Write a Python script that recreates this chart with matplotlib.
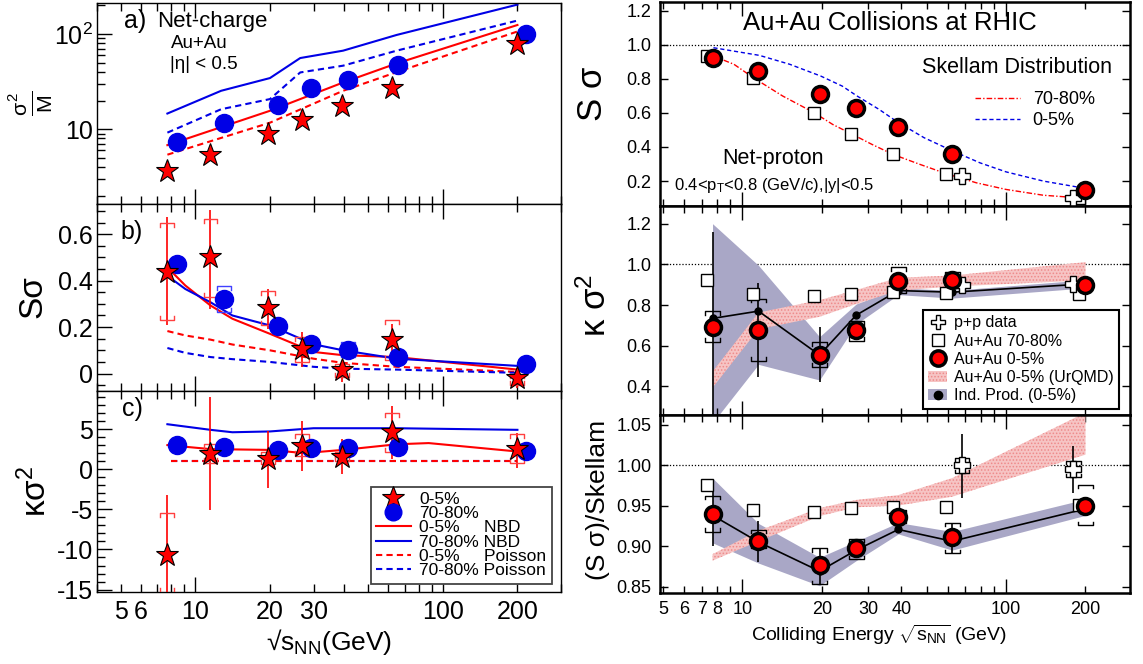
import matplotlib
matplotlib.use('Agg')
import matplotlib.pyplot as plt
from matplotlib.lines import Line2D
from matplotlib.patches import Patch
from matplotlib.ticker import NullFormatter, MultipleLocator, FixedLocator

plt.rcParams['font.family'] = ['Liberation Sans', 'DejaVu Sans']
plt.rcParams['mathtext.fontset'] = 'custom'
plt.rcParams['mathtext.rm'] = 'Liberation Sans'
plt.rcParams['mathtext.it'] = 'Liberation Sans'
plt.rcParams['mathtext.bf'] = 'Liberation Sans:bold'
plt.rcParams['hatch.linewidth'] = 0.7

# ---------------- left: net-charge ----------------
e_central = [7.7, 11.5, 19.6, 27, 39, 62.4, 200]
e_periph = [8.4, 13.0, 21.6, 29.2, 41.2, 65.6, 217]

# a) sigma^2 / M
var_central = [3.68, 5.42, 8.8, 12.6, 17.5, 27.2, 78.5]
var_periph = [7.4, 11.7, 17.9, 27.0, 32.8, 47.2, 100]
e_model_a = [7.7, 12.7, 20, 26.5, 39.5, 65, 200]
nbd_periph_a = [14.6, 25.3, 34.4, 55.8, 66.7, 97.5, 203]
poi_periph_a = [9.2, 16.2, 20.7, 39.4, 46.4, 66.7, 138]
e_model_a2 = [7.7, 20, 39.5, 65, 200]
nbd_central_a = [6.8, 15.6, 30.9, 49, 124]
poi_central_a = [5.4, 11.7, 25.3, 39.7, 106]

# b) S sigma
skew_central = [0.439, 0.50, 0.281, 0.107, 0.014, 0.143, -0.021]
skew_stat_lo = [0.207, 0.279, 0.19, 0.029, -0.036, 0.057, -0.064]
skew_stat_hi = [0.674, 0.703, 0.364, 0.179, 0.054, 0.214, 0.014]
skew_sys_lo = [0.231, 0.329, 0.207, 0.05, -0.014, 0.057, -0.05]
skew_sys_hi = [0.65, 0.664, 0.354, 0.157, 0.04, 0.231, 0.0]
skew_periph = [0.471, 0.319, 0.203, 0.126, 0.103, 0.071, 0.039]
e_skew_periph_sys = [13.0, 41.2]
skew_periph_sys_lo = [0.264, 0.071]
skew_periph_sys_hi = [0.379, 0.136]
e_model_b = [7.7, 9.1, 11.5, 14.1, 20, 30, 39.5, 65, 200]
nbd_central_b = [0.457, 0.379, 0.293, 0.236, 0.171, 0.093, 0.079, 0.071, 0.017]
nbd_periph_b = [0.421, 0.364, 0.307, 0.25, 0.207, 0.126, 0.1, 0.064, 0.033]
poi_central_b = [0.183, 0.164, 0.146, 0.125, 0.1, 0.064, 0.046, 0.029, 0.007]
poi_periph_b = [0.11, 0.089, 0.071, 0.062, 0.05, 0.029, 0.021, 0.017, 0.003]

# c) kappa sigma^2
kurt_central = [-10.7, 1.9, 1.25, 2.9, 1.5, 4.6, 2.5]
kurt_stat_lo = [-15.4, -5.1, -2.3, -0.2, -0.6, 1.25, 0.2]
kurt_stat_hi = [-3.2, 9.0, 4.8, 6.0, 3.75, 7.9, 4.5]
kurt_sys_lo = [-15.4, 0.8, 0.6, 1.7, 1.0, 2.1, 0.8]
kurt_sys_hi = [-5.4, 3.1, 2.1, 4.4, 2.1, 7.0, 4.4]
kurt_periph = [3.0, 2.7, 2.4, 2.6, 2.6, 2.7, 2.3]
e_nbd_periph_c = [7.7, 11.5, 14.1, 20, 30, 65, 200]
nbd_periph_c = [5.6, 4.9, 4.6, 4.7, 5.1, 5.1, 4.9]
e_nbd_central_c = [7.7, 11.5, 20, 27.4, 39.5, 65, 87.6, 200]
nbd_central_c = [3.0, 2.5, 2.4, 2.0, 2.4, 3.1, 3.25, 2.2]
e_poisson_c = [8, 200]
poi_c = [1.0, 1.0]

# ---------------- right: net-proton ----------------
e_au = [7.7, 11.5, 19.6, 27, 39, 62.4, 200]
e_sq = [7.35, 11.0, 18.7, 25.9, 37.2, 59.4, 189]
e_pp = [68, 180]

sk_central = [0.92, 0.845, 0.712, 0.626, 0.517, 0.36, 0.149]
sk_periph = [0.933, 0.806, 0.601, 0.477, 0.356, 0.243, 0.102]
sk_pp = [0.229, 0.102]
e_skellam_c = [7.76, 11.6, 15.1, 19.8, 23.9, 27.2, 33.0, 39.1, 48.9, 62.8, 79.6, 100, 138.5, 200]
skellam_central = [0.982, 0.937, 0.885, 0.816, 0.757, 0.699, 0.62, 0.542, 0.454, 0.376, 0.307, 0.254, 0.2, 0.157]
e_skellam_p = [7.76, 9.28, 11.0, 14.2, 18.7, 22.0, 25.9, 31.0, 37.3, 47.3, 59.4, 77.1, 100, 138.5, 188.8]
skellam_periph = [0.933, 0.885, 0.806, 0.699, 0.601, 0.532, 0.477, 0.415, 0.356, 0.297, 0.243, 0.19, 0.151, 0.117, 0.102]

kap_central = [0.693, 0.676, 0.554, 0.676, 0.917, 0.921, 0.896]
kap_stat_lo = [0.2, 0.448, 0.419, 0.645, 0.885, 0.879, 0.88]
kap_stat_hi = [1.158, 0.91, 0.69, 0.71, 0.955, 0.962, 0.912]
kap_sys_lo = [0.619, 0.526, 0.494, 0.623, 0.86, 0.885, 0.885]
kap_sys_hi = [0.769, 0.832, 0.619, 0.722, 0.987, 0.96, 0.91]
kap_ind = [0.734, 0.77, 0.554, 0.75, 0.871, 0.863, 0.904]
kap_band_lo = [0.22, 0.508, 0.431, 0.706, 0.851, 0.834, 0.884]
kap_band_hi = [1.2, 0.995, 0.644, 0.805, 0.884, 0.872, 0.924]
kap_periph = [0.922, 0.856, 0.844, 0.855, 0.865, 0.86, 0.855]
kap_pp = [0.896, 0.904]
kap_urqmd_lo = [0.393, 0.681, 0.742, 0.805, 0.871, 0.891, 0.921]
kap_urqmd_hi = [0.472, 0.763, 0.824, 0.874, 0.934, 0.945, 1.011]

rat_central = [0.94, 0.906, 0.876, 0.897, 0.9355, 0.911, 0.95]
rat_stat_lo = [0.90, 0.88, 0.853, 0.887, 0.928, 0.891, 0.943]
rat_stat_hi = [0.976, 0.931, 0.897, 0.907, 0.943, 0.929, 0.959]
rat_sys_lo = [0.918, 0.897, 0.853, 0.884, 0.928, 0.891, 0.926]
rat_sys_hi = [0.962, 0.92, 0.897, 0.909, 0.945, 0.929, 0.976]
rat_ind = [0.938, 0.905, 0.869, 0.895, 0.9205, 0.906, 0.946]
rat_band_lo = [0.904, 0.879, 0.851, 0.882, 0.915, 0.895, 0.938]
rat_band_hi = [0.984, 0.928, 0.886, 0.906, 0.929, 0.918, 0.958]
rat_periph = [0.975, 0.945, 0.942, 0.947, 0.948, 0.948, 0.951]
rat_pp = [1.0, 0.995]
rat_pp_stat_lo = [0.96, 0.965]
rat_pp_stat_hi = [1.038, 1.024]
rat_pp_sys_lo = [0.99, 0.985]
rat_pp_sys_hi = [1.009, 1.005]
rat_urqmd_lo = [0.882, 0.906, 0.937, 0.948, 0.95, 0.961, 1.013]
rat_urqmd_hi = [0.89, 0.919, 0.947, 0.957, 0.963, 0.984, 1.065]

RED = '#ff0000'
BLUE = '#0000e6'
BAND = '#a9a7c6'
URQMD = '#f6c4c4'


def brackets(ax, x, lo, hi, color, w=0.028, h=0.022, lw=1.0, z=4):
    y0, y1 = ax.get_ylim()
    dy = h * (y1 - y0)
    for xi, l, u in zip(x, lo, hi):
        xl, xr = xi * 10 ** -w, xi * 10 ** w
        ax.plot([xl, xl, xr, xr], [u - dy, u, u, u - dy], color=color, lw=lw, zorder=z)
        ax.plot([xl, xl, xr, xr], [l + dy, l, l, l + dy], color=color, lw=lw, zorder=z)


def stat(ax, x, lo, hi, color, lw=1.2, z=4):
    ax.vlines(x, lo, hi, color=color, lw=lw, zorder=z)


fig = plt.figure(figsize=(11.43, 6.64), dpi=100)
W, H = 1143, 664


def add_axes(x0, x1, y0, y1):
    return fig.add_axes([x0 / W, 1 - y1 / H, (x1 - x0) / W, (y1 - y0) / H])


ax_a = add_axes(97, 561, 3.4, 204)
ax_b = add_axes(97, 561, 204, 390.5)
ax_c = add_axes(97, 561, 390.5, 592)
ax_t = add_axes(659.6, 1130, 2, 206)
ax_m = add_axes(659.6, 1130, 206, 415)
ax_r = add_axes(659.6, 1130, 415, 593)

# ---- left axes styling ----
for ax in (ax_a, ax_b, ax_c):
    ax.set_xscale('log')
    ax.set_xlim(4, 300)
    ax.xaxis.set_major_locator(FixedLocator([10, 100]))
    ax.xaxis.set_minor_locator(FixedLocator([4, 5, 6, 7, 8, 9, 20, 30, 40, 50, 60, 70, 80, 90, 200, 300]))
    ax.tick_params(which='both', direction='in', top=True, bottom=True, right=False,
                   labelsize=18, pad=3, width=1)
    ax.tick_params(which='major', length=11)
    ax.tick_params(which='minor', length=6)
    for s in ax.spines.values():
        s.set_linewidth(1.0)
for ax in (ax_a, ax_b):
    ax.tick_params(which='both', labelbottom=False)
ax_c.set_xticks([10, 100], ['10', '100'])
ax_c.set_xticks([4, 5, 6, 7, 8, 9, 20, 30, 40, 50, 60, 70, 80, 90, 200, 300],
                ['', '5', '6', '', '', '', '20', '30', '', '', '', '', '', '', '200', ''], minor=True)
ax_c.tick_params(axis='x', which='both', pad=6)

# a)
ax_a.set_yscale('log')
ax_a.set_ylim(1.64, 209)
ax_a.set_yticks([10, 100], ['10', '$10^2$'])
ax_a.yaxis.set_minor_formatter(NullFormatter())
ax_a.plot(e_model_a, nbd_periph_a, color=BLUE, lw=1.5)
ax_a.plot(e_model_a, poi_periph_a, color=BLUE, lw=1.5, ls=(0, (3, 2)))
ax_a.plot(e_model_a2, nbd_central_a, color=RED, lw=1.5)
ax_a.plot(e_model_a2, poi_central_a, color=RED, lw=1.5, ls=(0, (3, 2)))
ax_a.plot(e_periph, var_periph, 'o', ms=13, color=BLUE, mec=BLUE, zorder=5)
ax_a.plot(e_central, var_central, '*', ms=17, mfc=RED, mec='k', mew=0.8, zorder=6)
ax_a.text(0.058, 0.912, 'a)', transform=ax_a.transAxes, fontsize=18, va='center')
ax_a.text(0.129, 0.912, 'Net-charge', transform=ax_a.transAxes, fontsize=16, va='center')
ax_a.text(0.16, 0.80, 'Au+Au', transform=ax_a.transAxes, fontsize=13.5, va='center')
ax_a.text(0.157, 0.696, '|η| < 0.5', transform=ax_a.transAxes, fontsize=13.5, va='center')

# b)
ax_b.set_ylim(-0.073, 0.73)
ax_b.set_yticks([0, 0.2, 0.4, 0.6], ['0', '0.2', '0.4', '0.6'])
ax_b.yaxis.set_minor_locator(MultipleLocator(0.05))
ax_b.plot(e_model_b, nbd_central_b, color=RED, lw=1.5)
ax_b.plot(e_model_b, nbd_periph_b, color=BLUE, lw=1.5)
ax_b.plot(e_model_b, poi_central_b, color=RED, lw=1.5, ls=(0, (3, 2)))
ax_b.plot(e_model_b, poi_periph_b, color=BLUE, lw=1.5, ls=(0, (3, 2)))
stat(ax_b, e_central, skew_stat_lo, skew_stat_hi, RED)
brackets(ax_b, e_central, skew_sys_lo, skew_sys_hi, '#ff4040')
brackets(ax_b, e_skew_periph_sys, skew_periph_sys_lo, skew_periph_sys_hi, '#4040ff')
ax_b.plot(e_periph, skew_periph, 'o', ms=13, color=BLUE, zorder=5)
ax_b.plot(e_central, skew_central, '*', ms=17, mfc=RED, mec='k', mew=0.8, zorder=6)
ax_b.text(0.05, 0.85, 'b)', transform=ax_b.transAxes, fontsize=18, va='center')

# c)
ax_c.set_ylim(-15.3, 9.8)
ax_c.set_yticks([-15, -10, -5, 0, 5], ['-15', '-10', '-5', '0', '5'])
ax_c.yaxis.set_minor_locator(MultipleLocator(1))
ax_c.plot(e_nbd_periph_c, nbd_periph_c, color=BLUE, lw=1.5)
ax_c.plot(e_nbd_central_c, nbd_central_c, color=RED, lw=1.5)
ax_c.plot(e_poisson_c, poi_c, color=BLUE, lw=1.5, ls=(0, (3, 2)))
ax_c.plot(e_poisson_c, poi_c, color=RED, lw=1.5, ls=(0, (3, 2)))
stat(ax_c, e_central, kurt_stat_lo, kurt_stat_hi, RED)
brackets(ax_c, e_central, kurt_sys_lo, kurt_sys_hi, '#ff4040')
ax_c.plot(e_periph, kurt_periph, 'o', ms=13, color=BLUE, zorder=5)
ax_c.plot(e_central, kurt_central, '*', ms=17, mfc=RED, mec='k', mew=0.8, zorder=6)
ax_c.text(0.054, 0.91, 'c)', transform=ax_c.transAxes, fontsize=18, va='center')

left_handles = [
    Line2D([], [], ls='none', marker='*', ms=17, mfc=RED, mec='k', mew=0.8),
    Line2D([], [], ls='none', marker='o', ms=12, color=BLUE),
    Line2D([], [], color=RED, lw=1.5),
    Line2D([], [], color=BLUE, lw=1.5),
    Line2D([], [], color=RED, lw=1.5, ls=(0, (3, 2))),
    Line2D([], [], color=BLUE, lw=1.5, ls=(0, (3, 2))),
]
left_labels = ['0-5%', '70-80%', '0-5%     NBD', '70-80% NBD', '0-5%     Poisson', '70-80% Poisson']
leg = ax_c.legend(left_handles, left_labels, loc='lower right', bbox_to_anchor=(0.98, 0.042),
                  fontsize=12.5, frameon=True, fancybox=False, edgecolor='#444444',
                  framealpha=1, borderpad=0.3, labelspacing=-0.05, handlelength=2.0,
                  handletextpad=0.5, borderaxespad=0)
leg.get_frame().set_linewidth(1.3)

fig.text(30.6 / W, 1 - 103.8 / H, r'$\frac{\sigma^2}{\mathrm{M}}$', fontsize=22,
         rotation=90, ha='center', va='center')
fig.text(32.8 / W, 1 - 296.5 / H, 'Sσ', fontsize=24, rotation=90, ha='center', va='center')
fig.text(36 / W, 1 - 491 / H, 'κσ$^2$', fontsize=24, rotation=90, ha='center', va='center')
fig.text(329 / W, 1 - 642 / H, '√s$_{NN}$(GeV)', fontsize=19, ha='center', va='center')

# ---- right axes styling ----
for ax in (ax_t, ax_m, ax_r):
    ax.set_xscale('log')
    ax.set_xlim(4.85, 295)
    ax.xaxis.set_major_locator(FixedLocator([10, 100]))
    ax.xaxis.set_minor_locator(FixedLocator([5, 6, 7, 8, 9, 20, 30, 40, 50, 60, 70, 80, 90, 200]))
    ax.tick_params(which='both', direction='in', top=True, right=True, labelsize=13, pad=6, width=1)
    ax.tick_params(which='major', length=10)
    ax.tick_params(which='minor', length=5)
    ax.tick_params(axis='y', which='major', length=6)
    for s in ax.spines.values():
        s.set_linewidth(1.8)
for ax in (ax_t, ax_m):
    ax.tick_params(which='both', labelbottom=False)
ax_r.set_xticks([10, 100], ['10', '100'])
ax_r.set_xticks([5, 6, 7, 8, 9, 20, 30, 40, 50, 60, 70, 80, 90, 200],
                ['5', '6', '7', '8', '', '20', '30', '40', '', '', '', '', '', '200'], minor=True)

# top
ax_t.set_ylim(0.054, 1.25)
ax_t.set_yticks([0.2, 0.4, 0.6, 0.8, 1.0, 1.2], ['0.2', '0.4', '0.6', '0.8', '1.0', '1.2'])
ax_t.axhline(1.0, color='k', lw=0.9, ls=(0, (1, 1.5)))
l_per, = ax_t.plot(e_skellam_p, skellam_periph, color=RED, lw=1.0, ls=(0, (4, 1.5, 1, 1.5)))
l_cen, = ax_t.plot(e_skellam_c, skellam_central, color=BLUE, lw=1.0, ls=(0, (3, 2)))
ax_t.plot(e_sq, sk_periph, 's', ms=9, mfc='white', mec='k', mew=1.0, zorder=5)
ax_t.plot(e_pp, sk_pp, 'P', ms=11, mfc='white', mec='k', mew=1.0, zorder=5)
ax_t.plot(e_au, sk_central, 'o', ms=11.5, mfc=RED, mec='k', mew=2.5, zorder=6)
ax_t.text(0.49, 0.896, 'Au+Au Collisions at RHIC', transform=ax_t.transAxes, fontsize=18.5,
          ha='center', va='center')
ax_t.text(0.76, 0.677, 'Skellam Distribution', transform=ax_t.transAxes, fontsize=15.5,
          ha='center', va='center')
ax_t.text(0.241, 0.231, 'Net-proton', transform=ax_t.transAxes, fontsize=15.5,
          ha='center', va='center')
ax_t.text(0.031, 0.10, '0.4<p$_{\\mathrm{T}}$<0.8 (GeV/c),|y|<0.5', transform=ax_t.transAxes,
          fontsize=12, ha='left', va='center')
ax_t.legend([l_per, l_cen], ['70-80%', '0-5%'], loc='upper left', bbox_to_anchor=(0.655, 0.60),
            frameon=False, fontsize=13, handlelength=2.5, handletextpad=0.7, labelspacing=0.25,
            borderaxespad=0)

# middle
ax_m.set_ylim(0.259, 1.287)
ax_m.set_yticks([0.4, 0.6, 0.8, 1.0, 1.2], ['0.4', '0.6', '0.8', '1.0', '1.2'])
ax_m.axhline(1.0, color='k', lw=0.9, ls=(0, (1, 1.5)), zorder=1)
ax_m.fill_between(e_au, kap_band_lo, kap_band_hi, color=BAND, lw=0, zorder=1)
ax_m.fill_between(e_au, kap_urqmd_lo, kap_urqmd_hi, facecolor=URQMD, edgecolor='#ee8a8a',
                  hatch='.....', lw=0, zorder=2)
ax_m.plot(e_au, kap_ind, '-o', color='k', lw=1.2, ms=5, zorder=3)
stat(ax_m, e_au, kap_stat_lo, kap_stat_hi, 'k')
brackets(ax_m, e_au, kap_sys_lo, kap_sys_hi, 'k', h=0.018)
ax_m.plot(e_sq, kap_periph, 's', ms=9, mfc='white', mec='k', mew=1.0, zorder=5)
ax_m.plot(e_pp, kap_pp, 'P', ms=11, mfc='white', mec='k', mew=1.0, zorder=5)
ax_m.plot(e_au, kap_central, 'o', ms=11.5, mfc=RED, mec='k', mew=2.5, zorder=6)
right_handles = [
    Line2D([], [], ls='none', marker='P', ms=10, mfc='white', mec='k', mew=1.0),
    Line2D([], [], ls='none', marker='s', ms=8, mfc='white', mec='k', mew=1.0),
    Line2D([], [], ls='none', marker='o', ms=11, mfc=RED, mec='k', mew=2.5),
    Patch(facecolor=URQMD, edgecolor='#ee8a8a', hatch='.....', lw=0),
    (Patch(facecolor=BAND, lw=0), Line2D([], [], ls='none', marker='o', ms=6, color='k')),
]
right_labels = ['p+p data', 'Au+Au 70-80%', 'Au+Au 0-5%', 'Au+Au 0-5% (UrQMD)', 'Ind. Prod. (0-5%)']
leg2 = ax_m.legend(right_handles, right_labels, loc='lower right', bbox_to_anchor=(0.977, 0.03),
                   fontsize=11.5, frameon=True, fancybox=False, edgecolor='k', framealpha=1,
                   borderpad=0.35, labelspacing=0.2, handlelength=1.2, handletextpad=0.4,
                   borderaxespad=0)
leg2.get_frame().set_linewidth(1.5)

# bottom
ax_r.set_ylim(0.842, 1.062)
ax_r.set_yticks([0.85, 0.9, 0.95, 1.0, 1.05], ['0.85', '0.90', '0.95', '1.00', '1.05'])
ax_r.axhline(1.0, color='k', lw=0.9, ls=(0, (1, 1.5)), zorder=1)
ax_r.fill_between(e_au, rat_band_lo, rat_band_hi, color=BAND, lw=0, zorder=1)
ax_r.fill_between(e_au, rat_urqmd_lo, rat_urqmd_hi, facecolor=URQMD, edgecolor='#ee8a8a',
                  hatch='.....', lw=0, zorder=2)
ax_r.plot(e_au, rat_ind, '-o', color='k', lw=1.2, ms=5, zorder=3)
stat(ax_r, e_au, rat_stat_lo, rat_stat_hi, 'k')
brackets(ax_r, e_au, rat_sys_lo, rat_sys_hi, 'k', h=0.018)
stat(ax_r, e_pp, rat_pp_stat_lo, rat_pp_stat_hi, 'k')
brackets(ax_r, e_pp, rat_pp_sys_lo, rat_pp_sys_hi, 'k', h=0.018)
ax_r.plot(e_sq, rat_periph, 's', ms=9, mfc='white', mec='k', mew=1.0, zorder=5)
ax_r.plot(e_pp, rat_pp, 'P', ms=11, mfc='white', mec='k', mew=1.0, zorder=5)
ax_r.plot(e_au, rat_central, 'o', ms=11.5, mfc=RED, mec='k', mew=2.5, zorder=6)

fig.text(592 / W, 1 - 94 / H, 'S σ', fontsize=25, rotation=90, ha='center', va='center')
fig.text(596 / W, 1 - 305 / H, 'κ σ$^2$', fontsize=25, rotation=90, ha='center', va='center')
fig.text(598 / W, 1 - 500 / H, '(S σ)/Skellam', fontsize=19, rotation=90, ha='center', va='center')
fig.text(879 / W, 1 - 635 / H, r'Colliding Energy $\sqrt{s_{\mathrm{NN}}}$ (GeV)', fontsize=14,
         ha='center', va='center')

fig.savefig('out.png', dpi=100, facecolor='white')
